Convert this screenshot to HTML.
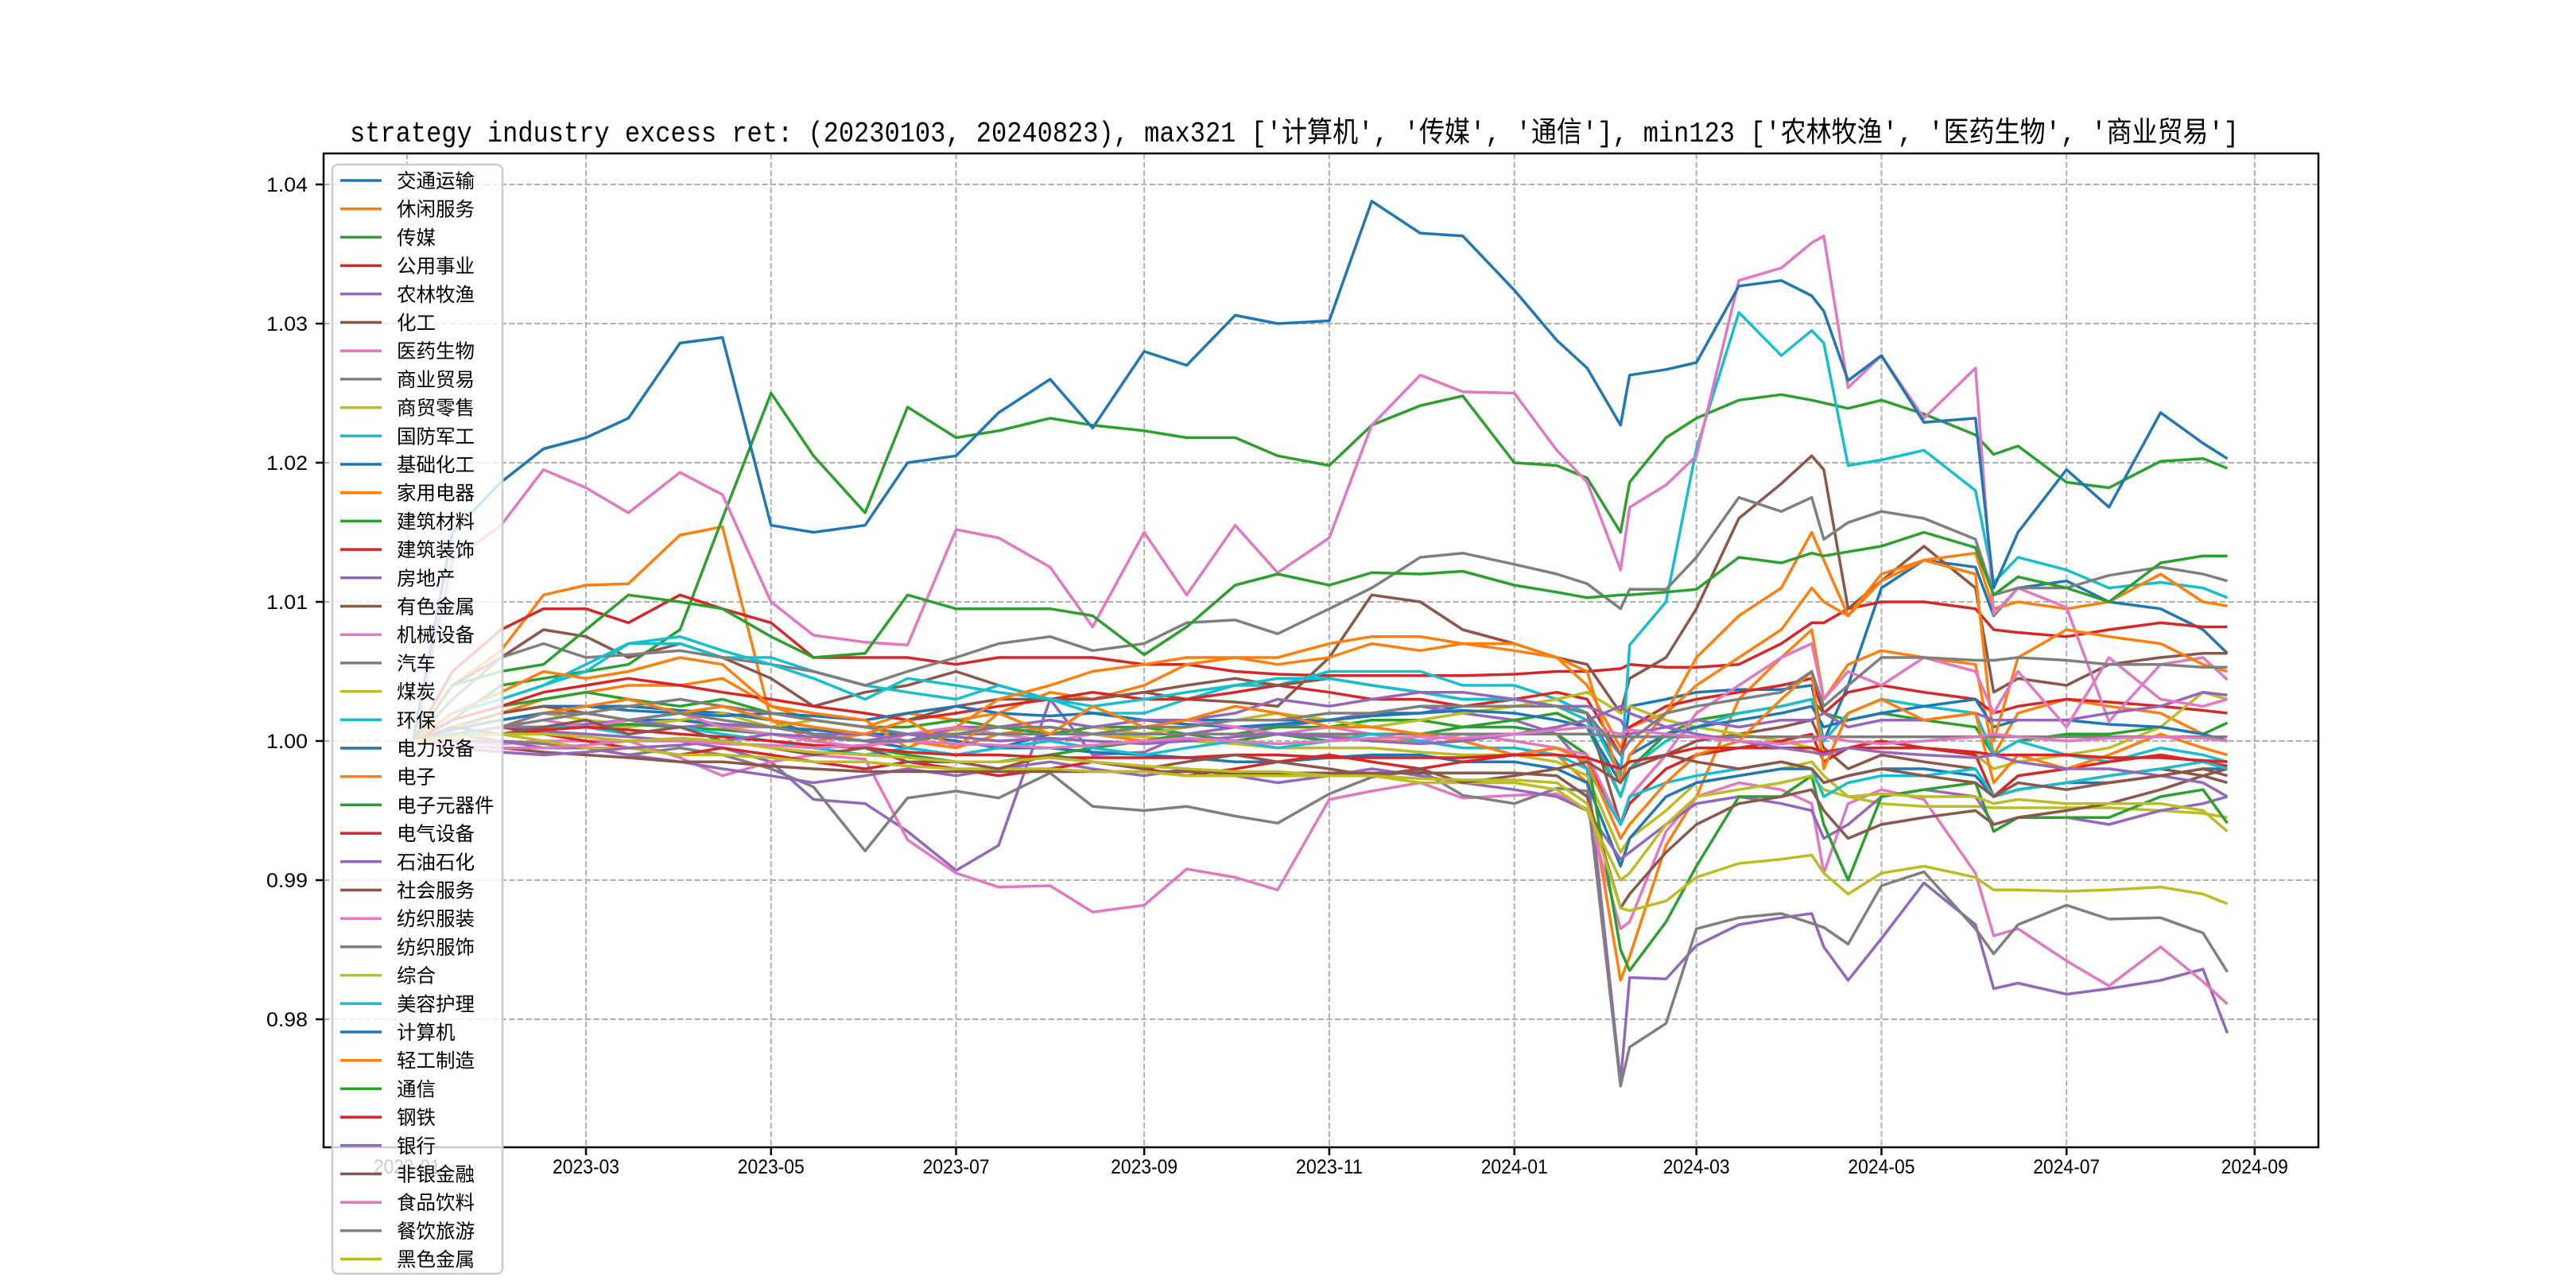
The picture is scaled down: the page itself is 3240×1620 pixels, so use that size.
<!DOCTYPE html>
<html><head><meta charset="utf-8"><title>strategy industry excess ret</title>
<style>html,body{margin:0;padding:0;background:#fff}svg{display:block}</style></head>
<body>
<svg id="chart" xmlns="http://www.w3.org/2000/svg" width="3240" height="1620" viewBox="0 0 3240 1620" font-family="'Liberation Sans','Noto Sans CJK SC',sans-serif">
<rect x="0" y="0" width="3240" height="1620" fill="#fff"/>
<text x="440" y="178" font-size="36" textLength="2376" lengthAdjust="spacingAndGlyphs" font-family="'Liberation Mono','Noto Sans CJK SC',monospace">strategy industry excess ret: (20230103, 20240823), max321 ['计算机', '传媒', '通信'], min123 ['农林牧渔', '医药生物', '商业贸易']</text>
<g id="grid"></g>
<g id="series"></g>
<rect x="407" y="193" width="2509" height="1250" fill="none" stroke="#000" stroke-width="2.5"/>
<g id="axes"></g>
<g id="legend"></g>
</svg>
<script>
// dates of sampled points
const dates = ["2023-01-03","2023-01-16","2023-02-01","2023-02-15","2023-03-01","2023-03-15","2023-04-01","2023-04-15","2023-05-01","2023-05-15","2023-06-01","2023-06-15","2023-07-01","2023-07-15","2023-08-01","2023-08-15","2023-09-01","2023-09-15","2023-10-01","2023-10-15","2023-11-01","2023-11-15","2023-12-01","2023-12-15","2024-01-01","2024-01-15","2024-01-25","2024-02-05","2024-02-08","2024-02-20","2024-03-01","2024-03-15","2024-03-29","2024-04-08","2024-04-12","2024-04-20","2024-05-01","2024-05-15","2024-06-01","2024-06-07","2024-06-15","2024-07-01","2024-07-15","2024-08-01","2024-08-15","2024-08-23"];
const names = ["交通运输","休闲服务","传媒","公用事业","农林牧渔","化工","医药生物","商业贸易","商贸零售","国防军工","基础化工","家用电器","建筑材料","建筑装饰","房地产","有色金属","机械设备","汽车","煤炭","环保","电力设备","电子","电子元器件","电气设备","石油石化","社会服务","纺织服装","纺织服饰","综合","美容护理","计算机","轻工制造","通信","钢铁","银行","非银金融","食品饮料","餐饮旅游","黑色金属"];
// series values: excess return in basis points (value = 1 + bp/10000)
const s00 = [0,10,20,25,25,25,22,20,15,5,0,-5,-10,-5,5,5,10,15,15,15,15,20,20,25,25,25,20,-20,25,30,35,37,37,40,0,40,110,130,125,90,110,115,100,95,80,63];
const s01 = [0,40,65,105,112,113,148,154,15,0,5,0,-5,5,10,5,0,5,10,5,5,0,0,-5,-5,-10,-30,-172,-155,-75,-40,30,60,80,30,55,65,60,55,-10,20,30,25,20,5,0];
const s02 = [0,15,40,45,50,55,80,160,250,205,164,240,218,223,232,227,223,218,218,205,198,227,241,248,200,198,189,150,186,218,232,245,249,245,243,239,245,235,220,206,212,186,182,201,203,196];
const s03 = [0,50,80,95,95,85,105,95,85,60,60,60,55,60,60,60,55,55,50,48,47,47,47,47,48,50,50,52,55,53,53,55,70,85,85,95,100,100,95,80,78,75,80,85,82,82];
const s04 = [0,3,5,7,5,3,0,-5,-15,-42,-45,-65,-93,-75,30,-10,-8,5,10,10,15,20,25,20,15,5,-20,-245,-170,-171,-147,-132,-127,-124,-148,-172,-142,-102,-132,-178,-174,-182,-178,-172,-164,-210];
const s05 = [0,40,60,80,75,60,70,60,45,25,35,40,50,40,30,30,35,30,28,25,60,105,100,80,70,60,55,20,45,60,95,160,185,205,195,95,115,140,110,35,45,40,55,60,63,63];
const s06 = [0,0,-2,0,0,0,-12,-25,-15,-10,-13,-71,-95,-105,-104,-123,-118,-92,-98,-107,-42,-36,-30,-41,-39,-38,-49,-135,-130,-65,-40,-30,-35,-45,-95,-45,-35,-42,-95,-140,-135,-158,-176,-148,-173,-189];
const s07 = [0,0,0,-2,-5,-10,-5,-10,-20,-33,-79,-41,-36,-41,-23,-47,-50,-47,-54,-59,-38,-26,-21,-39,-45,-34,-36,-248,-220,-203,-135,-127,-124,-131,-134,-146,-104,-94,-135,-153,-132,-118,-128,-127,-138,-166];
const s08 = [0,5,10,10,12,10,15,10,10,8,5,5,5,5,5,5,3,0,-2,-5,-5,-5,-8,-10,-10,-15,-25,-80,-70,-50,-30,-25,-20,-15,-25,-40,-45,-47,-47,-48,-48,-48,-48,-50,-52,-55];
const s09 = [0,20,30,40,50,70,70,60,60,50,40,35,30,40,30,20,20,30,40,40,50,50,50,40,40,30,20,-25,69,100,210,308,277,295,286,198,202,209,180,114,132,123,110,114,110,103];
const s10 = [0,5,10,10,12,15,15,12,10,8,5,5,0,-5,-5,-8,-10,-12,-15,-15,-12,-10,-10,-15,-15,-20,-30,-90,-70,-40,-30,-25,-20,-20,-30,-25,-20,-20,-25,-40,-35,-30,-30,-25,-20,-20];
const s11 = [0,10,20,30,35,40,40,45,25,15,10,20,15,20,35,30,40,55,60,60,70,75,75,70,70,60,40,-5,10,20,40,60,80,110,100,90,120,130,135,95,100,95,100,120,100,97];
const s12 = [0,15,25,30,35,30,25,30,20,15,10,10,15,10,5,10,10,5,5,10,10,15,15,10,15,20,10,-40,-20,5,15,20,25,30,20,15,20,15,10,-10,0,5,5,10,5,13];
const s13 = [0,15,25,35,40,45,40,35,30,25,20,15,20,25,30,35,30,30,35,40,35,30,30,25,30,35,30,-10,10,25,30,35,40,45,20,35,40,35,30,20,25,30,28,25,22,20];
const s14 = [0,5,0,-5,-5,-10,-15,-20,-25,-30,-25,-20,-25,-20,-15,-20,-25,-20,-25,-30,-25,-20,-25,-30,-35,-40,-50,-85,-80,-60,-45,-40,-45,-50,-70,-60,-40,-35,-40,-60,-55,-55,-60,-50,-45,-40];
const s15 = [0,10,20,25,20,15,20,25,15,10,5,15,25,30,30,30,35,40,45,40,45,40,35,30,30,25,20,-60,-40,-10,0,5,10,15,-5,-20,-10,-15,-20,-40,-35,-30,-25,-20,-25,-30];
const s16 = [0,130,155,195,182,164,193,177,100,76,71,69,152,146,125,82,150,105,155,121,146,227,263,251,250,209,186,123,168,184,205,331,340,358,363,254,277,232,268,91,110,96,14,55,60,44];
const s17 = [0,30,60,70,60,62,65,60,55,50,40,50,60,70,75,65,70,85,87,77,95,110,132,135,127,120,113,95,109,109,132,175,165,175,145,157,165,160,145,105,110,110,119,125,120,115];
const s18 = [0,10,15,20,15,12,15,20,10,15,10,5,8,10,15,10,5,10,15,20,15,10,15,20,25,30,35,20,25,15,10,5,0,-5,-10,-5,0,-5,-10,-20,-15,-10,-5,10,35,30];
const s19 = [0,20,30,40,55,70,75,65,55,45,30,45,40,35,30,25,30,35,40,45,45,40,35,30,30,25,15,-40,-20,0,10,20,25,30,0,20,30,25,20,-10,0,-10,-15,-5,-10,-15];
const s20 = [0,8,15,20,25,22,20,18,20,18,15,20,25,20,18,20,15,12,10,12,15,18,20,22,20,15,10,-30,-10,5,10,15,20,25,10,15,20,25,30,10,15,15,12,10,5,0];
const s21 = [0,20,35,50,45,50,60,55,25,20,15,-5,10,30,40,50,55,60,60,55,60,70,65,70,65,60,50,-30,-10,20,60,90,110,150,130,90,115,130,120,0,60,80,75,70,55,50];
const s22 = [0,5,10,8,10,12,10,8,5,0,-5,-10,-15,-15,-10,-5,0,5,0,5,0,5,5,10,10,5,-10,-150,-165,-130,-90,-40,-40,-25,-60,-100,-40,-35,-30,-65,-55,-55,-55,-40,-35,-59];
const s23 = [0,5,10,5,0,-5,-10,-5,-10,-15,-20,-15,-20,-25,-20,-15,-20,-25,-20,-15,-10,-15,-20,-15,-10,-5,-15,-60,-45,-20,-10,-5,0,5,-15,-5,0,-5,-10,-40,-25,-20,-15,-10,-15,-18];
const s24 = [0,5,10,10,12,15,10,12,10,5,5,0,10,10,15,10,15,15,20,30,25,30,35,35,30,25,25,15,5,10,15,10,15,15,20,10,15,15,20,15,15,15,20,25,35,33];
const s25 = [0,-3,-5,-8,-10,-12,-15,-15,-18,-20,-22,-22,-22,-22,-22,-22,-22,-22,-23,-23,-23,-23,-23,-23,-23,-25,-40,-120,-110,-80,-60,-45,-40,-35,-50,-70,-60,-55,-50,-60,-55,-50,-45,-35,-25,-20];
const s26 = [0,5,10,15,10,15,20,10,5,0,-5,5,10,5,0,5,10,15,10,5,10,5,0,5,0,-5,-10,-60,-40,-10,20,40,60,70,30,50,40,60,50,20,50,10,60,30,25,30];
const s27 = [0,5,10,15,20,25,30,25,20,15,10,5,5,5,5,5,5,5,5,5,5,5,5,5,5,5,5,3,3,3,3,3,3,3,3,3,3,3,3,3,3,3,3,3,3,3];
const s28 = [0,5,5,0,-5,-5,-10,-10,-12,-15,-15,-18,-20,-20,-20,-22,-22,-25,-25,-25,-25,-25,-30,-30,-30,-35,-50,-100,-95,-60,-40,-35,-30,-25,-35,-40,-38,-40,-40,-45,-42,-45,-45,-45,-50,-65];
const s29 = [0,5,5,10,10,5,10,5,0,-5,-10,-5,-10,-5,0,-5,-10,-5,0,-5,0,5,0,-5,-5,-10,-20,-60,-40,-30,-25,-20,-15,-20,-40,-30,-25,-25,-20,-40,-35,-30,-25,-20,-15,-20];
const s30 = [0,150,186,210,218,232,286,290,155,150,155,200,205,236,260,225,280,270,306,300,302,388,365,363,324,288,268,227,263,267,272,327,331,320,309,259,277,229,232,110,150,195,168,236,214,203];
const s31 = [0,5,10,20,25,30,20,25,15,10,5,15,-5,20,5,25,10,15,25,20,10,10,5,0,-10,-5,-15,-70,-60,-30,-10,0,30,50,-20,20,30,15,20,-30,-10,-20,-10,5,-5,-10];
const s32 = [0,40,50,55,80,105,100,95,75,60,63,105,95,95,95,90,62,82,112,120,112,121,120,122,112,107,103,105,105,107,109,132,128,135,133,136,140,150,139,105,118,110,100,128,133,133];
const s33 = [0,3,5,8,10,8,5,3,0,-3,-5,-8,-10,-10,-12,-12,-12,-12,-10,-10,-12,-12,-12,-12,-10,-10,-12,-20,-15,-10,-5,-5,-5,-5,-8,-5,-5,-5,-8,-10,-10,-10,-12,-12,-14,-15];
const s34 = [0,-5,-8,-10,-8,-5,-3,0,5,3,0,5,3,0,2,0,-2,0,3,5,3,0,-2,0,5,10,15,25,20,10,5,0,-5,-8,-10,-5,-8,-10,-12,-10,-15,-20,-20,-25,-30,-40];
const s35 = [0,10,5,10,15,5,10,0,-5,-10,-5,-15,-15,-20,-10,-15,-20,-15,-10,-15,-20,-25,-20,-30,-25,-20,-15,-30,-20,-10,-15,-20,-15,-20,-30,-25,-20,-25,-30,-40,-30,-35,-30,-25,-20,-25];
const s36 = [0,-3,-5,-5,-3,0,0,-2,-3,-5,-3,0,-2,-3,-5,-3,0,2,0,-2,0,2,3,2,5,8,10,5,8,5,3,0,-2,0,3,0,-2,0,3,5,3,0,2,3,2,0];
const s37 = [0,5,10,20,20,15,20,15,10,5,0,0,5,10,10,5,10,10,15,15,20,20,25,25,25,25,20,-10,0,20,25,30,35,50,25,40,60,60,58,58,60,58,55,55,53,53];
const s38 = [0,3,5,5,3,0,2,0,-5,-8,-10,-12,-15,-15,-12,-15,-18,-20,-22,-22,-25,-25,-27,-28,-28,-30,-45,-120,-122,-115,-98,-88,-85,-82,-95,-110,-95,-90,-98,-107,-107,-108,-107,-105,-110,-117];
const seriesValues = [s00,s01,s02,s03,s04,s05,s06,s07,s08,s09,s10,s11,s12,s13,s14,s15,s16,s17,s18,s19,s20,s21,s22,s23,s24,s25,s26,s27,s28,s29,s30,s31,s32,s33,s34,s35,s36,s37,s38];
const yTicks = [0.98,0.99,1.00,1.01,1.02,1.03,1.04];
const yTickLabels = ["0.98","0.99","1.00","1.01","1.02","1.03","1.04"];
const xTicks = ["2023-01-01","2023-03-01","2023-05-01","2023-07-01","2023-09-01","2023-11-01","2024-01-01","2024-03-01","2024-05-01","2024-07-01","2024-09-01"];
const xTickLabels = ["2023-01","2023-03","2023-05","2023-07","2023-09","2023-11","2024-01","2024-03","2024-05","2024-07","2024-09"];

const palette = ["#1f77b4","#ff7f0e","#2ca02c","#d62728","#9467bd","#8c564b","#e377c2","#7f7f7f","#bcbd22","#17becf"];
const NS = "http://www.w3.org/2000/svg";
const PL = 407, PR = 2916, PT = 193, PB = 1443;
const REF = Date.UTC(2023,2,1);
function dayNum(s){const p=s.split("-");return (Date.UTC(+p[0],+p[1]-1,+p[2])-REF)/86400000;}
function xScale(s){return 737 + dayNum(s)*3.816;}
function yScale(v){return 932 - (v-1)*17500;}
function mk(tag, attrs, parent){const e=document.createElementNS(NS,tag);for(const k in attrs)e.setAttribute(k,attrs[k]);parent.appendChild(e);return e;}

const grid = document.getElementById("grid");
const axes = document.getElementById("axes");
yTicks.forEach((v,i)=>{
  const y=yScale(v);
  const g=mk("line",{x1:PL,x2:PR,y1:y,y2:y,stroke:"#b0b0b0","stroke-width":2,"stroke-dasharray":"7.4,3.2"},grid);
  
  
  const t=mk("line",{x1:PL-10,x2:PL,y1:y,y2:y,stroke:"#000","stroke-width":2.5},axes);
  
  
  const l=mk("text",{x:PL-20,y:y+9,"font-size":25,"text-anchor":"end",textLength:52,lengthAdjust:"spacingAndGlyphs"},axes);
  
  
  l.textContent=yTickLabels[i];
});
xTicks.forEach((d,i)=>{
  const x=xScale(d);
  const g=mk("line",{x1:x,x2:x,y1:PT,y2:PB,stroke:"#b0b0b0","stroke-width":2,"stroke-dasharray":"7.4,3.2"},grid);
  
  
  const t=mk("line",{x1:x,x2:x,y1:PB,y2:PB+10,stroke:"#000","stroke-width":2.5},axes);
  
  
  const l=mk("text",{x:x,y:PB+33,"font-size":25,"text-anchor":"middle",textLength:84,lengthAdjust:"spacingAndGlyphs"},axes);
  
  
  l.textContent=xTickLabels[i];
});

const sg = document.getElementById("series");
seriesValues.forEach((vals,i)=>{
  const pts = vals.map((bp,j)=>xScale(dates[j]).toFixed(1)+","+yScale(1+bp/10000).toFixed(1)).join(" ");
  const p=mk("polyline",{points:pts,fill:"none",stroke:palette[i%10],"stroke-width":3.5,"stroke-linejoin":"round"},sg);
  
  
});

const lg = document.getElementById("legend");
const box=mk("rect",{x:418,y:207,width:214,height:1395,rx:7,fill:"rgba(255,255,255,0.8)",stroke:"#cccccc","stroke-width":2.5},lg);


names.forEach((n,i)=>{
  const cy = 227 + i*35.7;
  const ln=mk("line",{x1:428,x2:480,y1:cy,y2:cy,stroke:palette[i%10],"stroke-width":3.5},lg);
  
  
  const t=mk("text",{x:499,y:cy+9,"font-size":24.5,"font-family":"'Noto Sans CJK SC','WenQuanYi Zen Hei',sans-serif"},lg);
  
  
  t.textContent=n;
});
</script>
</body></html>
